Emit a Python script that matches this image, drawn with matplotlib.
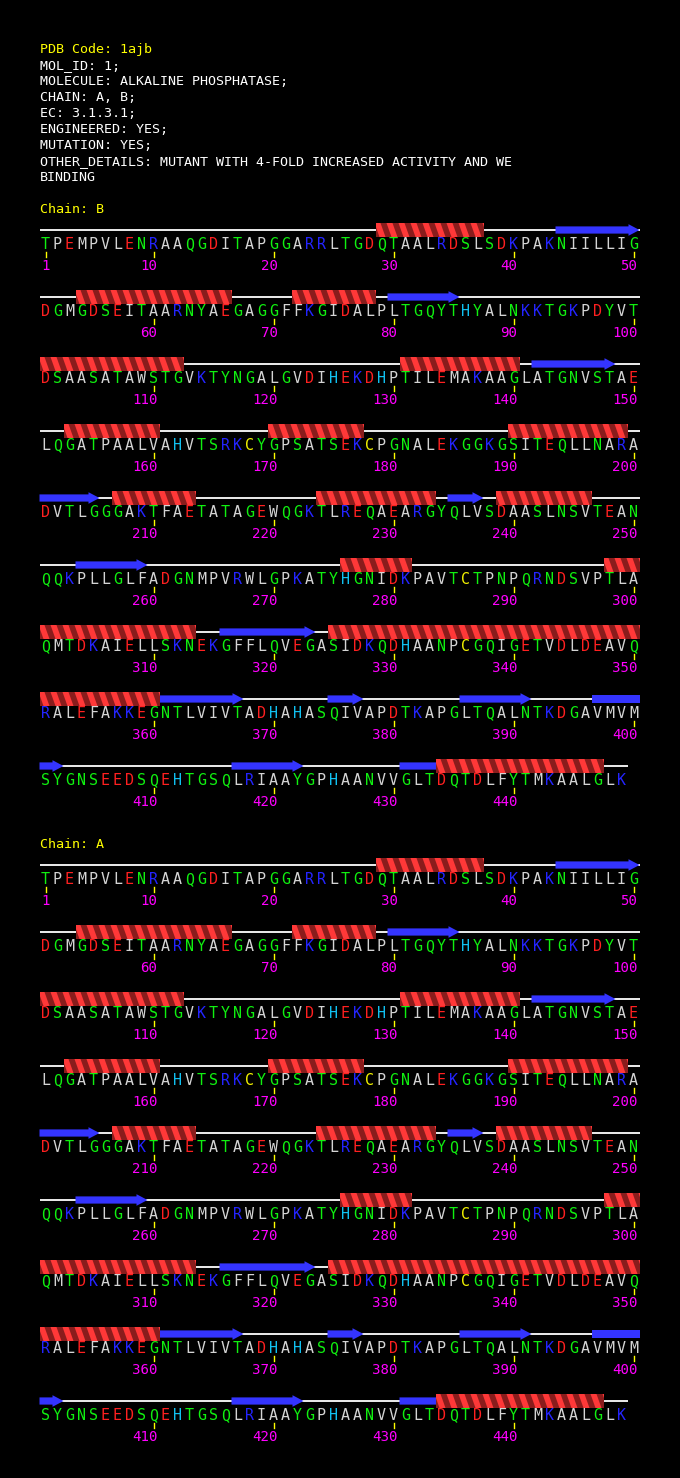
import matplotlib
matplotlib.use('Agg')  # no display here
import matplotlib.pyplot as plt
from matplotlib.patches import Rectangle, Polygon

HEADER_LINES = [
    'PDB Code: 1ajb',
    'MOL_ID: 1;',
    'MOLECULE: ALKALINE PHOSPHATASE;',
    'CHAIN: A, B;',
    'EC: 3.1.3.1;',
    'ENGINEERED: YES;',
    'MUTATION: YES;',
    'OTHER_DETAILS: MUTANT WITH 4-FOLD INCREASED ACTIVITY AND WE',
    'BINDING',
]
CHAINS = ['B', 'A']

# same sequence + secondary structure for both chains
SEQUENCE = ('TPEMPVLENRAAQGDITAPGGARRLTGDQTAALRDSLSDKPAKNIILLIG'
            'DGMGDSEITAARNYAEGAGGFFKGIDALPLTGQYTHYALNKKTGKPDYVT'
            'DSAASATAWSTGVKTYNGALGVDIHEKDHPTILEMAKAAGLATGNVSTAE'
            'LQGATPAALVAHVTSRKCYGPSATSEKCPGNALEKGGKGSITEQLLNARA'
            'DVTLGGGAKTFAETATAGEWQGKTLREQAEARGYQLVSDAASLNSVTEAN'
            'QQKPLLGLFADGNMPVRWLGPKATYHGNIDKPAVTCTPNPQRNDSVPTLA'
            'QMTDKAIELLSKNEKGFFLQVEGASIDKQDHAANPCGQIGETVDLDEAVQ'
            'RALEFAKKEGNTLVIVTADHAHASQIVAPDTKAPGLTQALNTKDGAVMVM'
            'SYGNSEEDSQEHTGSQLRIAAYGPHAANVVGLTDQTDLFYTMKAALGLK')

HELICES = [(29, 37), (54, 66), (72, 78), (101, 112), (131, 140), (153, 160),
           (170, 177), (190, 199), (207, 213), (224, 233), (239, 246),
           (276, 281), (298, 313), (325, 360), (434, 447)]
STRANDS = [(44, 50), (80, 85), (142, 148), (201, 205), (235, 237), (254, 259),
           (316, 323), (361, 367), (375, 377), (386, 391), (397, 402),
           (417, 422), (431, 434)]

RES_COLORS = {}
for aa in 'DE':
    RES_COLORS[aa] = '#ff2020'
for aa in 'KR':
    RES_COLORS[aa] = '#2424ff'
for aa in 'STNQGY':
    RES_COLORS[aa] = '#10f010'
RES_COLORS['H'] = '#10c0f0'
RES_COLORS['C'] = '#f0f000'
OTHER_COLOR = '#d4d4d4'

HELIX_RED = '#ff3838'
HELIX_DARK = '#8a1c1c'
STRAND_BLUE = '#3434ff'

# layout (pixels)
X0, DX, PER_LINE, ROW_DY = 45.5, 12, 50, 67
CHAIN_LABEL_Y = {'B': 208, 'A': 843}
FONT = 'DejaVu Sans Mono'
FS = 9.6        # header text, 8 px per char
FS_RES = 10.8   # residue letters are a bit taller
FS_NUM = 10.2


def res_x(i):
    return X0 + DX * ((i - 1) % PER_LINE)


def res_row(i):
    return (i - 1) // PER_LINE


def split_rows(s, e):
    parts = []
    r = res_row(s)
    while r * PER_LINE + 1 <= e:
        lo = max(s, r * PER_LINE + 1)
        hi = min(e, r * PER_LINE + PER_LINE)
        parts.append((r, lo, hi))
        r += 1
    return parts


fig = plt.figure(figsize=(6.8, 14.78), dpi=100, facecolor='black')
ax = fig.add_axes([0, 0, 1, 1])
ax.set_xlim(0, 680)
ax.set_ylim(1478, 0)
ax.axis('off')
ax.set_facecolor('black')

for k, line in enumerate(HEADER_LINES):
    ax.text(40, 53.2 + 16 * k, line, color='#ffff00' if k == 0 else 'white',
            family=FONT, fontsize=FS, va='baseline', ha='left')

n = len(SEQUENCE)
for chain in CHAINS:
    top = CHAIN_LABEL_Y[chain]
    ax.text(40, top + 4.9, 'Chain: ' + chain, color='#ffff00', family=FONT,
            fontsize=FS, va='baseline', ha='left')
    y_first = top + 22

    def ss_y(row):
        return y_first + ROW_DY * row

    # backbone lines
    for r in range(res_row(n) + 1):
        last = min(n, (r + 1) * PER_LINE)
        ax.plot([res_x(r * PER_LINE + 1) - 6, res_x(last) + 6], [ss_y(r), ss_y(r)],
                color='white', lw=1.3, solid_capstyle='butt', zorder=1)

    # strands
    for s, e in STRANDS:
        for r, lo, hi in split_rows(s, e):
            y = ss_y(r)
            xl = res_x(lo) - 6
            xr = res_x(hi) + 6
            if hi == e:
                xh = xr - 11
                pts = [(xl, y - 3.6), (xh, y - 3.6), (xh, y - 5.8), (xr, y),
                       (xh, y + 5.8), (xh, y + 3.6), (xl, y + 3.6)]
                ax.add_patch(Polygon(pts, closed=True, color=STRAND_BLUE, lw=0, zorder=2))
            else:
                ax.add_patch(Rectangle((xl, y - 3.6), xr - xl, 7.2, color=STRAND_BLUE,
                                       lw=0, zorder=2))

    # helices: red band with slanted dark stripes, one per residue
    for s, e in HELICES:
        for r, lo, hi in split_rows(s, e):
            y = ss_y(r)
            xl = res_x(lo) - 6
            xr = res_x(hi) + 6
            band = Rectangle((xl, y - 7), xr - xl, 14, color=HELIX_RED, lw=0, zorder=3)
            ax.add_patch(band)
            for j in range(lo - 1, hi + 1):
                L = res_x(lo) - 6 + DX * (j - lo)
                stripe = Polygon([(L + 5, y - 7), (L + 11, y - 7),
                                  (L + 16, y + 7), (L + 10, y + 7)],
                                 closed=True, color=HELIX_DARK, lw=0, zorder=4)
                ax.add_patch(stripe)
                stripe.set_clip_path(band)

    # residues, ticks, numbers
    for i, aa in enumerate(SEQUENCE, start=1):
        x = res_x(i)
        y = ss_y(res_row(i))
        ax.text(x, y + 19.1, aa, color=RES_COLORS.get(aa, OTHER_COLOR), family=FONT,
                fontsize=FS_RES, ha='center', va='baseline', zorder=5)
        if i == 1 or i % 10 == 0:
            ax.plot([x, x], [y + 22, y + 27], color='#ffff00', lw=1, zorder=5)
            ax.text(x + 4, y + 40.2, str(i), color='#ff00ff', family=FONT,
                    fontsize=FS_NUM, ha='right', va='baseline', zorder=5)

fig.savefig('out.png', dpi=100, facecolor='black')
plt.close(fig)
